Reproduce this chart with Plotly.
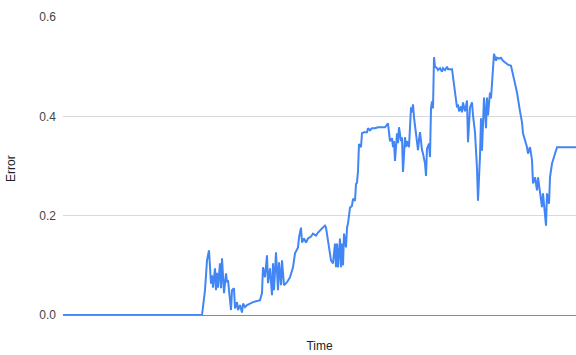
import plotly.graph_objects as go

# time steps and error values
time = [63, 202, 205, 207, 209, 211, 212, 213, 215, 216, 217, 218, 220, 221, 222, 224, 226, 227, 228,
        231, 232, 234, 235, 237, 238, 240, 242, 243, 245, 247, 250, 253, 257, 260,
        262, 263, 265, 267, 268, 270, 272, 273, 274, 276, 278, 279, 281, 282, 284, 287, 290, 293,
        295, 298, 299, 301, 302, 304, 306, 308, 311, 313, 316, 318, 322, 325, 326,
        328, 329, 331, 333, 335, 336, 337, 338, 340, 341, 342, 343, 344, 346, 347, 348, 350, 352,
        353, 355, 356, 357, 358, 359, 361, 362, 364, 367, 368, 370, 372, 375, 378, 382, 385, 388,
        390, 392, 393, 394, 395, 397, 398, 399, 401, 402, 403, 405, 406, 407, 409, 410, 411, 412,
        413, 414, 416, 418, 419, 420, 422, 423, 425, 426, 427, 429, 430, 431, 432, 433, 434, 435,
        437, 438, 440, 442, 443, 445, 447, 448, 452, 453, 455, 457, 458, 459, 461, 462, 463, 465,
        467, 468, 470, 472, 473, 475, 477, 478, 480, 481, 482, 483, 484, 486, 487, 488, 490, 491,
        492, 493, 494, 496, 497, 499, 501, 503, 506, 508, 511, 513, 517, 520, 522, 523, 527, 528,
        530, 532, 533, 535, 537, 538, 540, 542, 543, 545, 546, 547, 549, 550, 552, 554, 557, 576]

error = [0.0, 0.0, 0.05, 0.11, 0.13, 0.063, 0.08, 0.055, 0.094, 0.05, 0.085, 0.055, 0.104, 0.054,
         0.114, 0.044, 0.084, 0.066, 0.07,
         0.01, 0.05, 0.054, 0.013, 0.026, 0.01, 0.02, 0.005, 0.023, 0.016, 0.02, 0.023, 0.026,
         0.028, 0.03,
         0.044, 0.096, 0.076, 0.12, 0.064, 0.094, 0.04, 0.104, 0.05, 0.126, 0.05, 0.106, 0.06,
         0.11, 0.06, 0.066, 0.076, 0.096,
         0.124, 0.136, 0.156, 0.176, 0.146, 0.154, 0.146, 0.154, 0.158, 0.164, 0.16, 0.166,
         0.174, 0.18, 0.176,
         0.15, 0.13, 0.11, 0.104, 0.144, 0.096, 0.144, 0.096, 0.154, 0.096, 0.144, 0.1, 0.164,
         0.136, 0.176, 0.184, 0.216, 0.22,
         0.234, 0.23, 0.264, 0.266, 0.29, 0.344, 0.338, 0.366, 0.368, 0.368, 0.376, 0.372, 0.376,
         0.376, 0.378, 0.378, 0.378, 0.386,
         0.35, 0.356, 0.338, 0.35, 0.31, 0.366, 0.346, 0.378, 0.35, 0.358, 0.288, 0.358, 0.338,
         0.35, 0.338, 0.378, 0.418, 0.408,
         0.424, 0.398, 0.358, 0.332, 0.352, 0.368, 0.332, 0.325, 0.305, 0.28, 0.335, 0.345,
         0.318, 0.416, 0.43, 0.416, 0.519, 0.5,
         0.497, 0.493, 0.497, 0.49, 0.497, 0.493, 0.5, 0.495, 0.495, 0.478, 0.446, 0.418, 0.424,
         0.41, 0.42, 0.408, 0.428, 0.41,
         0.432, 0.348, 0.418, 0.428, 0.402, 0.368, 0.295, 0.23, 0.32, 0.396, 0.331, 0.406, 0.438,
         0.376, 0.438, 0.402, 0.448, 0.436,
         0.476, 0.502, 0.526, 0.512, 0.518, 0.516, 0.518, 0.512, 0.506, 0.504, 0.502, 0.482,
         0.448, 0.41, 0.388, 0.366, 0.338, 0.325,
         0.338, 0.312, 0.265, 0.277, 0.251, 0.277, 0.245, 0.217, 0.245, 0.21, 0.18, 0.245, 0.224,
         0.277, 0.305, 0.318, 0.338, 0.338]

y_ticks = [0.0, 0.2, 0.4, 0.6]
y_tick_labels = ["0.0", "0.2", "0.4", "0.6"]

fig = go.Figure()
fig.add_trace(go.Scatter(x=time, y=error, mode="lines",
                         line=dict(color="#4285F4", width=2), hoverinfo="skip"))

fig.update_layout(
    width=576, height=355,
    margin=dict(l=63, r=0, t=17, b=40),
    paper_bgcolor="white", plot_bgcolor="white",
    showlegend=False,
    font=dict(family="Liberation Sans, Arial, sans-serif", size=12, color="#444"),
    xaxis=dict(range=[63, 576], showgrid=False, showticklabels=False, ticks="",
               zeroline=False, showline=True, linecolor="#8a8a8a", linewidth=1,
               title=dict(text="Time", font=dict(size=12, color="#222"), standoff=26)),
    yaxis=dict(range=[0, 0.6], tickvals=y_ticks, ticktext=y_tick_labels,
               showgrid=True, gridcolor="#d9d9d9", gridwidth=1, zeroline=False,
               ticks="", ticklabelstandoff=6,
               tickfont=dict(size=12, color="#444")),
    annotations=[dict(text="Error", textangle=-90, xref="paper", yref="paper",
                      x=0, y=0.49, xanchor="center", yanchor="middle", xshift=-52,
                      showarrow=False, font=dict(size=12, color="#222"))],
)

fig.write_html("out.html")
